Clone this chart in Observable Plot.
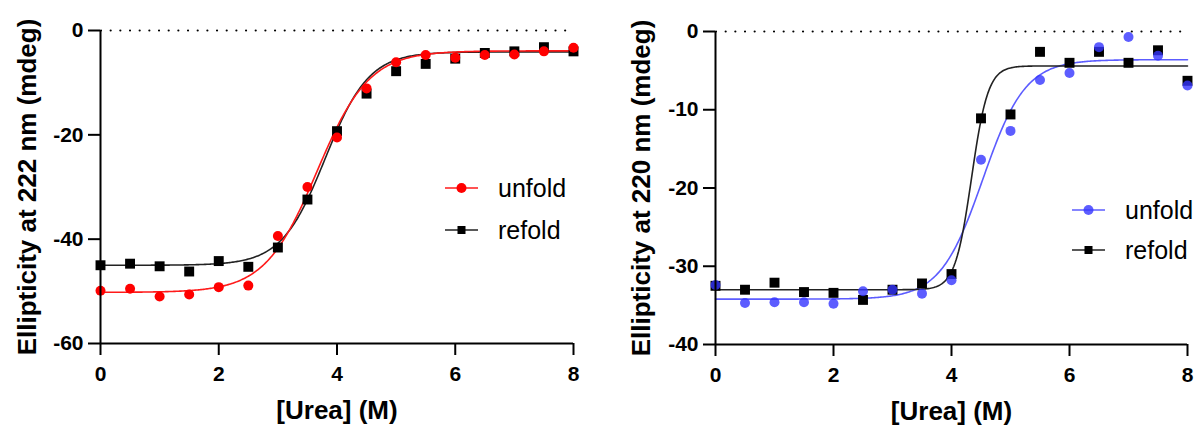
<!DOCTYPE html>
<html>
<head>
<meta charset="utf-8">
<script src="https://cdn.jsdelivr.net/npm/d3@7"></script>
<script src="https://cdn.jsdelivr.net/npm/@observablehq/plot@0.6"></script>
<style>
  body { margin: 0; background: #fff; }
  #fig { display: flex; width: 1200px; height: 428px; }
  #fig svg { display: block; overflow: visible; }
</style>
</head>
<body>
<div id="fig"></div>
<script>
// Urea concentrations (M) used for every titration point
const urea = [0, 0.5, 1, 1.5, 2, 2.5, 3, 3.5, 4, 4.5, 5, 5.5, 6, 6.5, 7, 7.5, 8];

// Panel A: ellipticity at 222 nm (mdeg)
const unfold222 = [-49.9, -49.5, -51.0, -50.6, -49.2, -48.9, -39.4, -30.0, -20.5, -11.1, -6.1, -4.7, -5.2, -4.7, -4.6, -4.0, -3.3];
const refold222 = [-45.0, -44.7, -45.2, -46.2, -44.2, -45.3, -41.6, -32.4, -19.3, -12.1, -7.8, -6.4, -5.4, -4.3, -4.0, -3.2, -4.0];

// Panel B: ellipticity at 220 nm (mdeg)
const unfold220 = [-32.4, -34.7, -34.6, -34.6, -34.8, -33.2, -33.0, -33.5, -31.8, -16.4, -12.7, -6.2, -5.3, -2.0, -0.7, -3.1, -6.9];
const refold220 = [-32.5, -33.0, -32.1, -33.3, -33.4, -34.3, -33.0, -32.2, -31.0, -11.1, -10.6, -2.6, -4.0, -2.6, -4.0, -2.4, -6.3];

// Two-state (Boltzmann) fit parameters: [bottom, top, midpoint, slope]
const fitUnfold222 = [-50.2, -3.9, 3.66, 0.44];
const fitRefold222 = [-45.0, -4.1, 3.80, 0.37];
const fitUnfold220 = [-34.2, -3.6, 4.53, 0.36];
const fitRefold220 = [-33.0, -4.4, 4.34, 0.14];

const xTicks = [0, 2, 4, 6, 8];
const yTicks222 = [0, -20, -40, -60];
const yTicks220 = [0, -10, -20, -30, -40];
const xTitle = "[Urea] (M)";
const seriesNames = ["unfold", "refold"];

const FONT = '"Liberation Sans", Arial, Helvetica, sans-serif';

// Sample a fitted Boltzmann curve across the urea range
function fitCurve([bottom, top, mid, slope]) {
  return d3.range(0, 8.0001, 0.02).map(x => ({
    x, y: bottom + (top - bottom) / (1 + Math.exp((mid - x) / slope))
  }));
}
const points = ys => urea.map((x, i) => ({x, y: ys[i]}));

function panel(o) {
  const svg = Plot.plot({
    width: 600,
    height: 428,
    marginLeft: o.ml, marginRight: o.mr, marginTop: o.mt, marginBottom: o.mb,
    style: {fontFamily: FONT, background: "white", color: "#000"},
    x: {domain: [0, 8]},
    y: {domain: o.yDomain},
    marks: [
      // dotted reference line at zero
      Plot.ruleY([0], {stroke: "#000", strokeWidth: 2.2, strokeDasharray: "0 9.67", strokeDashoffset: -1, strokeLinecap: "round"}),
      // fitted curves
      ...o.curvesFirst.map(s => Plot.line(fitCurve(s.fit), {x: "x", y: "y", stroke: s.line, strokeWidth: 1.6})),
      // measured points
      Plot.dot(points(o.refold), {x: "x", y: "y", symbol: "square", r: 5.6, fill: "#000", stroke: "none"}),
      Plot.dot(points(o.unfold), {x: "x", y: "y", symbol: "circle", r: 5, fill: o.unfoldFill, fillOpacity: o.unfoldOpacity, stroke: "none"}),
      // axes
      Plot.ruleX([0], {stroke: "#000", strokeWidth: 2}),
      Plot.ruleY([o.yDomain[0]], {stroke: "#000", strokeWidth: 2}),
      Plot.axisX({ticks: xTicks, tickSize: 12, tickPadding: 11, strokeWidth: 2, fontSize: 21, fontWeight: "bold", label: null, tickFormat: d => String(d)}),
      Plot.axisY({ticks: o.yTicks, tickSize: 12, tickPadding: 5, strokeWidth: 2, fontSize: 21, fontWeight: "bold", label: null, tickFormat: d => String(d)}),
      Plot.text([o.yTitle], {frameAnchor: "left", textAnchor: "middle", dx: o.yTitleDx, rotate: -90, fontSize: 26, fontWeight: "bold"}),
      Plot.text([xTitle], {frameAnchor: "bottom", textAnchor: "middle", dy: 75, fontSize: 26, fontWeight: "bold"})
    ]
  });

  // in-plot legend: line with marker, then the series name
  const g = d3.select(svg).append("g")
    .style("font-family", FONT).style("font-size", "25px").style("text-anchor", "start");
  o.legend.forEach(item => {
    g.append("line")
      .attr("x1", o.legX).attr("x2", o.legX + 33)
      .attr("y1", item.y).attr("y2", item.y)
      .attr("stroke", item.line).attr("stroke-width", 1.6);
    if (item.symbol === "circle") {
      g.append("circle").attr("cx", o.legX + 16.5).attr("cy", item.y).attr("r", 5)
        .attr("fill", item.fill).attr("fill-opacity", item.opacity ?? 1);
    } else {
      g.append("rect").attr("x", o.legX + 12.5).attr("y", item.y - 4).attr("width", 8).attr("height", 8)
        .attr("fill", item.fill);
    }
    g.append("text").attr("x", o.legX + 53).attr("y", item.y).attr("dy", "0.35em")
      .attr("fill", "#000").text(item.label);
  });
  return svg;
}

const fig = document.getElementById("fig");

fig.append(panel({
  ml: 100, mr: 27, mt: 30, mb: 85,
  yDomain: [-60, 0], yTicks: yTicks222,
  yTitle: "Ellipticity at 222 nm (mdeg)", yTitleDx: -73,
  unfold: unfold222, refold: refold222,
  unfoldFill: "#ff0000", unfoldOpacity: 1,
  curvesFirst: [
    {fit: fitRefold222, line: "#222"},
    {fit: fitUnfold222, line: "#ff1a1a"}
  ],
  legX: 445,
  legend: [
    {label: seriesNames[0], symbol: "circle", line: "#ff1a1a", fill: "#ff0000", y: 188},
    {label: seriesNames[1], symbol: "square", line: "#222", fill: "#000", y: 230}
  ]
}));

fig.append(panel({
  ml: 115, mr: 13, mt: 31, mb: 84,
  yDomain: [-40, 0], yTicks: yTicks220,
  yTitle: "Ellipticity at 220 nm (mdeg)", yTitleDx: -74,
  unfold: unfold220, refold: refold220,
  unfoldFill: "#3535ff", unfoldOpacity: 0.8,
  curvesFirst: [
    {fit: fitUnfold220, line: "#5c5cff"},
    {fit: fitRefold220, line: "#222"}
  ],
  legX: 472,
  legend: [
    {label: seriesNames[0], symbol: "circle", line: "#5c5cff", fill: "#3535ff", opacity: 0.8, y: 210},
    {label: seriesNames[1], symbol: "square", line: "#222", fill: "#000", y: 250}
  ]
}));
</script>
</body>
</html>
